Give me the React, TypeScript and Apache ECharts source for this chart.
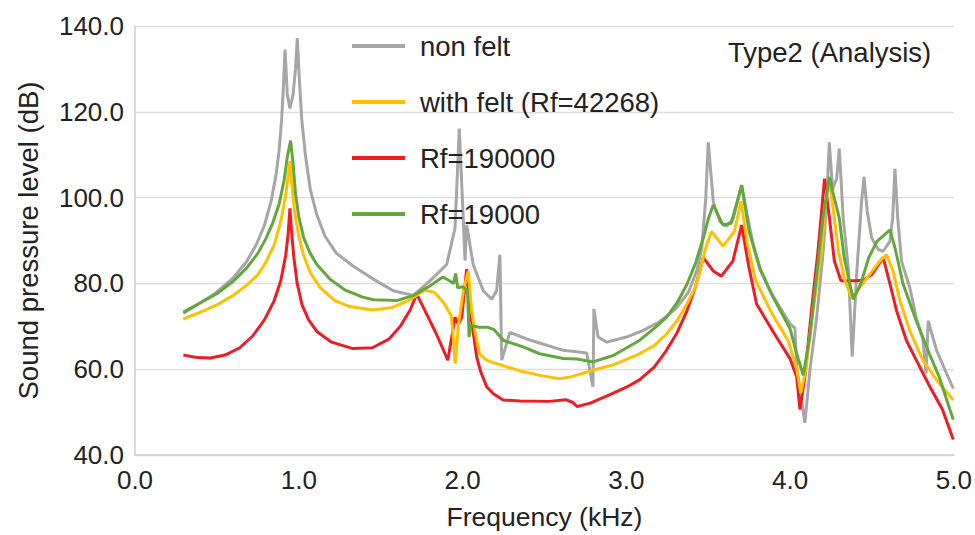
import React, { useEffect, useRef } from "react";
import * as echarts from "echarts";

// ---- data (frequency in kHz, level in dB) ----
const nonFeltF = [0.295, 0.4, 0.5, 0.6, 0.68, 0.74, 0.79, 0.83, 0.86, 0.88, 0.895, 0.905, 0.916, 0.93, 0.946, 0.965, 0.98, 0.991, 1.003, 1.018, 1.04, 1.07, 1.11, 1.16, 1.23, 1.333, 1.455, 1.577, 1.699, 1.801, 1.903, 1.954, 1.98, 2.004, 2.015, 2.025, 2.065, 2.126, 2.178, 2.208, 2.228, 2.239, 2.289, 2.411, 2.615, 2.758, 2.796, 2.802, 2.827, 2.88, 3.0, 3.1, 3.2, 3.3, 3.38, 3.43, 3.46, 3.485, 3.5, 3.531, 3.571, 3.612, 3.653, 3.704, 3.734, 3.775, 3.816, 3.877, 3.938, 3.999, 4.029, 4.04, 4.09, 4.121, 4.162, 4.202, 4.223, 4.239, 4.259, 4.284, 4.3, 4.324, 4.355, 4.379, 4.406, 4.436, 4.451, 4.471, 4.498, 4.538, 4.568, 4.609, 4.626, 4.64, 4.657, 4.68, 4.731, 4.77, 4.81, 4.83, 4.843, 4.894, 4.955, 4.996];
const nonFeltDb = [73.0, 75.5, 78.0, 81.3, 85.0, 89.0, 93.5, 99.0, 105.0, 111.0, 118.0, 125.0, 134.5, 124.0, 120.8, 124.0, 130.0, 137.2, 128.0, 118.3, 110.0, 102.0, 96.0, 91.0, 87.0, 84.0, 81.0, 78.3, 77.2, 80.6, 84.4, 92.9, 116.1, 95.2, 85.3, 93.6, 84.4, 78.3, 76.3, 78.3, 86.7, 62.1, 68.6, 66.8, 64.4, 63.8, 55.9, 74.0, 67.5, 66.3, 67.5, 69.0, 71.0, 74.0, 78.0, 83.0, 88.0, 100.0, 112.9, 99.0, 94.4, 93.3, 95.2, 102.9, 96.7, 89.0, 83.6, 78.3, 74.4, 70.6, 69.6, 60.6, 47.5, 59.9, 72.1, 87.5, 99.0, 112.9, 102.1, 104.4, 111.4, 95.2, 83.6, 62.9, 82.1, 99.0, 104.8, 96.7, 90.6, 87.9, 87.5, 89.8, 95.2, 106.7, 95.2, 85.2, 79.0, 72.0, 67.0, 59.0, 71.3, 64.4, 59.0, 55.5];

const feltF = [0.295, 0.4, 0.5, 0.6, 0.68, 0.75, 0.8, 0.85, 0.89, 0.92, 0.946, 0.96, 0.975, 1.0, 1.03, 1.07, 1.13, 1.22, 1.31, 1.45, 1.57, 1.67, 1.77, 1.83, 1.89, 1.93, 1.945, 1.955, 1.975, 2.005, 2.035, 2.055, 2.075, 2.105, 2.15, 2.208, 2.35, 2.48, 2.59, 2.66, 2.758, 2.8, 2.92, 3.08, 3.17, 3.245, 3.31, 3.37, 3.42, 3.449, 3.49, 3.52, 3.59, 3.66, 3.7, 3.74, 3.79, 3.89, 3.99, 4.04, 4.065, 4.095, 4.14, 4.19, 4.223, 4.24, 4.265, 4.295, 4.335, 4.375, 4.425, 4.486, 4.547, 4.588, 4.628, 4.67, 4.73, 4.81, 4.894, 4.996];
const feltDb = [71.7, 73.3, 75.0, 77.2, 79.5, 82.0, 85.0, 89.0, 94.5, 100.5, 108.5, 102.0, 96.5, 91.0, 86.5, 82.5, 79.0, 76.0, 74.6, 73.8, 74.4, 76.0, 78.4, 77.9, 75.2, 72.5, 67.0, 61.3, 70.5, 78.3, 82.9, 73.6, 69.0, 63.5, 62.0, 61.3, 59.6, 58.5, 57.8, 58.2, 59.3, 59.8, 61.0, 63.6, 65.5, 68.2, 71.3, 75.2, 79.0, 82.9, 89.0, 92.1, 88.7, 92.1, 99.2, 89.0, 80.6, 72.9, 66.5, 60.0, 54.4, 59.8, 73.6, 87.5, 101.4, 103.6, 96.7, 87.5, 80.6, 76.7, 79.0, 82.1, 85.2, 86.7, 82.9, 76.0, 69.0, 62.1, 57.5, 52.8];

const rf190000F = [0.295, 0.38, 0.46, 0.55, 0.64, 0.72, 0.79, 0.85, 0.89, 0.92, 0.935, 0.946, 0.955, 0.97, 0.99, 1.02, 1.06, 1.11, 1.2, 1.33, 1.45, 1.55, 1.62, 1.68, 1.72, 1.78, 1.84, 1.91, 1.954, 1.974, 1.995, 2.025, 2.055, 2.086, 2.11, 2.147, 2.19, 2.248, 2.35, 2.53, 2.63, 2.67, 2.7, 2.78, 2.92, 3.0, 3.08, 3.17, 3.245, 3.31, 3.37, 3.42, 3.47, 3.53, 3.58, 3.65, 3.704, 3.745, 3.795, 3.9, 4.0, 4.04, 4.06, 4.09, 4.13, 4.17, 4.21, 4.24, 4.27, 4.31, 4.4, 4.45, 4.5, 4.568, 4.61, 4.65, 4.71, 4.77, 4.853, 4.93, 4.996];
const rf190000Db = [63.3, 62.7, 62.6, 63.3, 65.0, 67.8, 71.5, 76.0, 80.6, 86.5, 91.5, 97.5, 92.5, 86.0, 80.0, 75.0, 71.5, 68.8, 66.3, 64.8, 65.0, 67.0, 70.0, 73.8, 77.5, 72.9, 68.2, 62.1, 72.1, 70.5, 72.1, 83.3, 71.3, 62.9, 59.5, 55.9, 54.2, 52.8, 52.6, 52.5, 52.9, 52.3, 51.3, 52.1, 54.4, 55.8, 57.5, 60.5, 64.4, 68.5, 73.6, 79.0, 86.0, 82.9, 81.7, 85.2, 93.6, 84.4, 75.2, 68.5, 62.4, 58.2, 50.6, 58.2, 73.6, 87.5, 104.4, 95.2, 85.2, 80.6, 80.6, 80.8, 82.1, 86.0, 79.8, 73.6, 66.7, 62.1, 55.9, 50.6, 43.6];

const rf19000F = [0.295, 0.4, 0.5, 0.6, 0.68, 0.75, 0.8, 0.84, 0.88, 0.91, 0.93, 0.95, 0.965, 0.98, 1.0, 1.03, 1.07, 1.11, 1.19, 1.28, 1.39, 1.455, 1.6, 1.7, 1.8, 1.88, 1.92, 1.945, 1.958, 1.97, 2.0, 2.03, 2.04, 2.05, 2.1, 2.15, 2.19, 2.25, 2.37, 2.47, 2.615, 2.7, 2.796, 2.92, 3.08, 3.17, 3.245, 3.31, 3.37, 3.42, 3.47, 3.5, 3.53, 3.59, 3.64, 3.704, 3.75, 3.816, 3.897, 3.999, 4.04, 4.08, 4.12, 4.16, 4.2, 4.24, 4.26, 4.3, 4.33, 4.385, 4.43, 4.48, 4.53, 4.61, 4.64, 4.69, 4.77, 4.85, 4.91, 4.996];
const rf19000Db = [73.3, 75.5, 77.6, 80.5, 83.5, 87.0, 90.5, 94.0, 98.5, 104.0, 109.5, 113.3, 108.0, 101.0, 95.5, 90.6, 87.0, 84.4, 81.0, 78.5, 76.8, 76.2, 76.0, 77.2, 79.4, 81.5, 80.6, 80.0, 82.3, 79.0, 79.2, 78.3, 67.5, 70.2, 69.8, 69.8, 69.3, 66.7, 65.2, 63.6, 62.5, 62.4, 61.7, 63.2, 66.7, 69.5, 72.1, 75.5, 79.8, 84.5, 90.6, 95.0, 98.3, 93.6, 94.0, 102.9, 92.1, 83.3, 76.7, 69.5, 63.6, 58.6, 67.5, 81.3, 95.2, 104.8, 101.4, 95.2, 86.0, 76.3, 79.8, 86.0, 89.8, 92.5, 88.3, 79.8, 71.3, 63.6, 58.2, 48.2];

const seriesNames = ["non felt", "with felt (Rf=42268)", "Rf=190000", "Rf=19000"];
const seriesColors = ["#a6a6a6", "#ffc000", "#ee1c25", "#63a83a"];
const xTicks = { min: 0, max: 5, step: 1 };
const yTicks = { min: 40, max: 140, step: 20 };

const zip = (f: number[], d: number[]) => f.map((x, i) => [x, d[i]]);

const FONT = "Liberation Sans, Arial, sans-serif";
const TXT = "#222222";

export default function App() {
  const ref = useRef<HTMLDivElement>(null);
  useEffect(() => {
    const chart = echarts.init(ref.current!, null, { renderer: "svg" });
    const dataSets = [
      zip(nonFeltF, nonFeltDb),
      zip(feltF, feltDb),
      zip(rf190000F, rf190000Db),
      zip(rf19000F, rf19000Db),
    ];
    chart.setOption({
      animation: false,
      backgroundColor: "#ffffff",
      textStyle: { fontFamily: FONT },
      title: {
        text: "Type2 (Analysis)",
        left: 728,
        top: 38,
        padding: 0,
        textStyle: { fontFamily: FONT, fontSize: 27.5, fontWeight: "normal", color: TXT, lineHeight: 28 },
      },
      legend: {
        orient: "vertical",
        left: 352,
        top: 32,
        padding: 0,
        itemGap: 28,
        itemWidth: 53,
        itemHeight: 4,
        icon: "rect",
        data: seriesNames,
        textStyle: { fontFamily: FONT, fontSize: 27.5, color: TXT, lineHeight: 28, padding: [0, 0, 0, 10] },
      },
      grid: { left: 135, right: 21, top: 26, bottom: 76, containLabel: false },
      xAxis: {
        type: "value",
        min: xTicks.min,
        max: xTicks.max,
        interval: xTicks.step,
        name: "Frequency (kHz)",
        nameLocation: "middle",
        nameGap: 48,
        nameTextStyle: { fontFamily: FONT, fontSize: 26.5, color: TXT },
        axisLine: { show: true, lineStyle: { color: "#cfcfcf", width: 1.5 } },
        axisTick: { show: false },
        splitLine: { show: false },
        axisLabel: { fontFamily: FONT, fontSize: 26, color: TXT, margin: 12, formatter: (v: number) => v.toFixed(1) },
      },
      yAxis: {
        type: "value",
        min: yTicks.min,
        max: yTicks.max,
        interval: yTicks.step,
        name: "Sound pressure level (dB)",
        nameLocation: "middle",
        nameGap: 93,
        nameTextStyle: { fontFamily: FONT, fontSize: 27.5, color: TXT },
        axisLine: { show: true, lineStyle: { color: "#cfcfcf", width: 1.5 } },
        axisTick: { show: false },
        splitLine: { show: true, lineStyle: { color: "#dddddd", width: 1.3 } },
        axisLabel: { fontFamily: FONT, fontSize: 26, color: TXT, margin: 11, formatter: (v: number) => v.toFixed(1) },
      },
      series: seriesNames.map((name, i) => ({
        name,
        type: "line",
        data: dataSets[i],
        showSymbol: false,
        symbol: "none",
        color: seriesColors[i],
        lineStyle: { color: seriesColors[i], width: 3 },
        z: i === 0 ? 1 : 2 + (i === 3 ? 2 : i === 1 ? 1 : 0),
      })),
    });
    return () => chart.dispose();
  }, []);
  return <div ref={ref} style={{ position: "fixed", left: 0, top: 0, width: 975, height: 535 }} />;
}
